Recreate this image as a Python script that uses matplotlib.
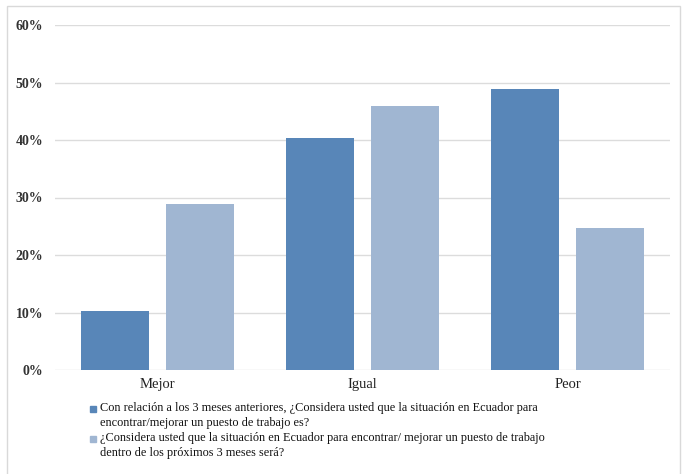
import matplotlib
matplotlib.use("Agg")
import matplotlib.pyplot as plt
import numpy as np
from matplotlib.patches import Rectangle

# Survey: perception of job market situation in Ecuador
categories = ["Mejor", "Igual", "Peor"]
previous_3m = [10.3, 40.3, 48.9]   # vs. previous 3 months
next_3m = [28.9, 45.9, 24.7]       # expectation for next 3 months
legend_labels = [
    "Con relación a los 3 meses anteriores, ¿Considera usted que la situación en Ecuador para\n"
    "encontrar/mejorar un puesto de trabajo es?",
    "¿Considera usted que la situación en Ecuador para encontrar/ mejorar un puesto de trabajo\n"
    "dentro de los próximos 3 meses será?",
]
y_ticks = [0, 10, 20, 30, 40, 50, 60]

DARK = "#5886b8"
LIGHT = "#a0b6d2"
SERIF = ["Liberation Serif", "DejaVu Serif"]

fig = plt.figure(figsize=(6.82, 4.74), dpi=100)
ax = fig.add_axes([55 / 682, 1 - 370 / 474, 615 / 682, 345 / 474])

x = np.arange(len(categories))
w = 0.33
ax.bar(x - 0.207, previous_3m, width=w, color=DARK, zorder=3)
ax.bar(x + 0.207, next_3m, width=w, color=LIGHT, zorder=3)

ax.set_xlim(-0.5, len(categories) - 0.5)
ax.set_ylim(0, 60)
ax.set_yticks(y_ticks)
ax.set_yticklabels([f"{t}%" for t in y_ticks], family=SERIF, fontsize=10,
                   fontweight="bold", color="#333333")
ax.set_xticks(x)
ax.set_xticklabels(categories, family=SERIF, fontsize=10.5, color="#222222")
ax.tick_params(length=0)
ax.tick_params(axis="x", pad=6)
ax.tick_params(axis="y", pad=8.5)
ax.grid(axis="y", color="#dcdcdc", lw=1, zorder=0)
for s in ax.spines.values():
    s.set_visible(False)

# legend drawn by hand so the square sits on the first line of each entry
for i, (label, color) in enumerate(zip(legend_labels, [DARK, LIGHT])):
    top = 1 - (402 + i * 30) / 474
    fig.add_artist(Rectangle((90 / 682, top - 10 / 474), 6 / 682, 6 / 474,
                             transform=fig.transFigure, color=color))
    fig.text(100 / 682, top, label, family=SERIF, fontsize=8.8, va="top",
             ha="left", linespacing=1.3, color="#111111")

# light outer frame
fig.add_artist(Rectangle((7 / 682, -0.02), 673 / 682, 1.02 - 6 / 474,
                         transform=fig.transFigure, fill=False,
                         edgecolor="#d9d9d9", lw=1))

fig.savefig("out.png", dpi=100)
